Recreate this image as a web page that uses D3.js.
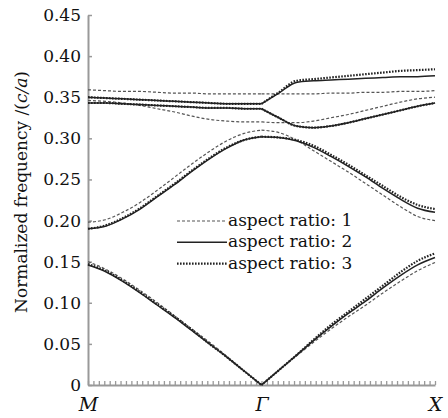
<!DOCTYPE html>
<html>
<head>
<meta charset="utf-8">
<script src="https://cdn.jsdelivr.net/npm/d3@7"></script>
<style>
  body { margin: 0; background: #fff; }
  svg text { font-family: "DejaVu Serif", "Liberation Serif", serif; fill: #111; }
</style>
</head>
<body>
<svg id="chart" width="448" height="418"></svg>
<script>
// positions along the path M -> Γ -> X (0 = M, 1 = Γ, 2 = X)
const kPath = [0, 0.1, 0.2, 0.3, 0.4, 0.5, 0.6, 0.7, 0.8, 0.9, 1,
               1.1, 1.2, 1.3, 1.4, 1.5, 1.6, 1.7, 1.8, 1.9, 2]

// aspect ratio 1 (dashed)
const r1Band1 = [0.150, 0.141, 0.129, 0.115, 0.100, 0.084, 0.068, 0.052, 0.035, 0.017, 0, 0.018, 0.035, 0.052, 0.068, 0.083, 0.097, 0.112, 0.126, 0.139, 0.149]
const r1Band2 = [0.198, 0.201, 0.210, 0.222, 0.237, 0.253, 0.269, 0.284, 0.297, 0.306, 0.310, 0.307, 0.298, 0.285, 0.272, 0.259, 0.245, 0.231, 0.217, 0.205, 0.200]
const r1Band3 = [0.346, 0.345, 0.343, 0.340, 0.336, 0.332, 0.327, 0.323, 0.321, 0.320, 0.320, 0.319, 0.319, 0.321, 0.325, 0.329, 0.334, 0.339, 0.344, 0.348, 0.350]
const r1Band4 = [0.359, 0.358, 0.357, 0.357, 0.356, 0.355, 0.355, 0.354, 0.354, 0.354, 0.354, 0.354, 0.354, 0.354, 0.355, 0.355, 0.356, 0.356, 0.357, 0.357, 0.358]

// aspect ratio 2 (solid)
const r2Band1 = [0.146, 0.138, 0.126, 0.112, 0.097, 0.082, 0.066, 0.050, 0.034, 0.017, 0, 0.018, 0.036, 0.054, 0.071, 0.087, 0.102, 0.118, 0.133, 0.146, 0.155]
const r2Band2 = [0.190, 0.193, 0.202, 0.214, 0.229, 0.244, 0.260, 0.275, 0.288, 0.298, 0.302, 0.301, 0.297, 0.289, 0.278, 0.266, 0.253, 0.239, 0.226, 0.215, 0.210]
const r2Band3 = [0.343, 0.343, 0.342, 0.341, 0.340, 0.339, 0.338, 0.337, 0.337, 0.336, 0.336, 0.325, 0.315, 0.313, 0.315, 0.319, 0.324, 0.329, 0.334, 0.339, 0.343]
const r2Band4 = [0.350, 0.349, 0.348, 0.347, 0.346, 0.345, 0.344, 0.343, 0.342, 0.342, 0.342, 0.355, 0.368, 0.370, 0.371, 0.372, 0.373, 0.374, 0.375, 0.375, 0.376]

// aspect ratio 3 (dotted)
const r3Band1 = [0.147, 0.139, 0.127, 0.113, 0.098, 0.083, 0.067, 0.050, 0.034, 0.017, 0, 0.018, 0.036, 0.055, 0.073, 0.089, 0.105, 0.121, 0.137, 0.151, 0.160]
const r3Band2 = [0.190, 0.194, 0.203, 0.215, 0.230, 0.245, 0.261, 0.276, 0.289, 0.298, 0.302, 0.301, 0.298, 0.291, 0.280, 0.268, 0.255, 0.242, 0.229, 0.219, 0.214]
const r3Band3 = [0.343, 0.343, 0.342, 0.341, 0.340, 0.339, 0.338, 0.337, 0.337, 0.336, 0.336, 0.325, 0.315, 0.313, 0.315, 0.319, 0.324, 0.329, 0.334, 0.339, 0.343]
const r3Band4 = [0.350, 0.349, 0.348, 0.347, 0.346, 0.345, 0.344, 0.343, 0.342, 0.342, 0.342, 0.356, 0.370, 0.372, 0.374, 0.376, 0.378, 0.380, 0.382, 0.383, 0.384]

const pointLabels = ["M", "Γ", "X"]
const legendLabels = ["aspect ratio: 1", "aspect ratio: 2", "aspect ratio: 3"]
const yTicks = [0, 0.05, 0.10, 0.15, 0.20, 0.25, 0.30, 0.35, 0.40, 0.45]


const styles = [
    { dash: "3,2", width: 1.2, color: "#555" },
    { dash: null, width: 1.5, color: "#222" },
    { dash: "1.6,1.4", width: 2.2, color: "#222" }
]

const series = [
    { ratio: 0, bands: [r1Band1, r1Band2, r1Band3, r1Band4] },
    { ratio: 1, bands: [r2Band1, r2Band2, r2Band3, r2Band4] },
    { ratio: 2, bands: [r3Band1, r3Band2, r3Band3, r3Band4] }
]

const svg = d3.select("#chart")

const xScale = d3.scaleLinear().domain([0, 2]).range([88, 435])
const yScale = d3.scaleLinear().domain([0, 0.45]).range([385, 15])

// y axis
const yAxis = d3.axisLeft(yScale)
    .tickValues(yTicks)
    .tickSizeInner(-4)
    .tickSizeOuter(0)
    .tickPadding(7)
    .tickFormat(d => d === 0 ? "0" : d3.format(".2f")(d))

const gy = svg.append("g")
    .attr("transform", "translate(" + xScale(0) + ",0)")
    .call(yAxis)
gy.select(".domain").attr("stroke", "#999").attr("stroke-width", 2)
gy.selectAll(".tick line").attr("stroke", "#999").attr("stroke-width", 1.5)
gy.selectAll(".tick text")
    .style("font-size", "17px")
    .attr("fill", "#111")
    .style("font-family", "DejaVu Serif")

// x axis with dense minor ticks
const minorTicks = d3.range(0, 65).map(i => i / 32)
const xAxis = d3.axisBottom(xScale)
    .tickValues(minorTicks)
    .tickSizeInner(-4)
    .tickSizeOuter(0)
    .tickFormat("")

const gx = svg.append("g")
    .attr("transform", "translate(0," + yScale(0) + ")")
    .call(xAxis)
gx.select(".domain").attr("stroke", "#999").attr("stroke-width", 2)
gx.selectAll(".tick line").attr("stroke", "#999").attr("stroke-width", 1.3)

// symmetry point labels
const xLabels = d3.axisBottom(xScale)
    .tickValues([0, 1, 2])
    .tickSize(0)
    .tickPadding(13)
    .tickFormat((d, i) => pointLabels[i])

const gl = svg.append("g")
    .attr("transform", "translate(0," + yScale(0) + ")")
    .call(xLabels)
gl.select(".domain").remove()
gl.selectAll(".tick text")
    .style("font-size", "19px")
    .style("font-style", "italic")
    .style("font-family", "DejaVu Serif")
    .attr("fill", "#111")

// y axis title
const yTitle = svg.append("text")
    .attr("transform", "translate(27,192) rotate(-90)")
    .attr("text-anchor", "middle")
    .style("font-size", "17px")
yTitle.append("tspan").text("Normalized frequency /(")
yTitle.append("tspan").style("font-style", "italic").text("c/a")
yTitle.append("tspan").text(")")

// bands, each drawn as two segments so the kinks at Γ stay sharp
const line = d3.line()
    .x(d => xScale(d[0]))
    .y(d => yScale(d[1]))
    .curve(d3.curveMonotoneX)

const plot = svg.append("g")

series.forEach(s => {
    const st = styles[s.ratio]
    s.bands.forEach(band => {
        const pts = kPath.map((k, i) => [k, band[i]])
        const parts = [pts.slice(0, 11), pts.slice(10)]
        parts.forEach(p => {
            plot.append("path")
                .attr("d", line(p))
                .attr("fill", "none")
                .attr("stroke", st.color)
                .attr("stroke-width", st.width)
                .attr("stroke-dasharray", st.dash)
        })
    })
})

// legend
const legend = svg.append("g").attr("transform", "translate(177,221)")
legendLabels.forEach((lab, i) => {
    const st = styles[i]
    const row = legend.append("g").attr("transform", "translate(0," + (i * 21.3) + ")")
    row.append("line")
        .attr("x1", 0).attr("x2", 50)
        .attr("stroke", st.color)
        .attr("stroke-width", st.width)
        .attr("stroke-dasharray", st.dash)
    row.append("text")
        .attr("x", 51)
        .attr("dy", "0.3em")
        .style("font-size", "17px")
        .text(lab)
})
</script>
</body>
</html>
